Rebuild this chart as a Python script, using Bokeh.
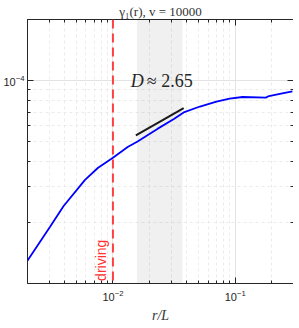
import numpy as np
from bokeh.plotting import figure
from bokeh.models import (LogAxis, FixedTicker, LogTickFormatter, BoxAnnotation,
                          Span, Label, Range1d, CustomJSTickFormatter)
from bokeh.embed import file_html
from bokeh.resources import INLINE

# ---- data ----
r_over_L = [0.00199, 0.00305, 0.00395, 0.00591, 0.00756, 0.0100, 0.0132, 0.0159,
            0.0231, 0.0315, 0.0379, 0.0515, 0.0703, 0.0900, 0.115, 0.178, 0.189,
            0.243, 0.294]
gamma1 = [1.29e-5, 1.90e-5, 2.41e-5, 3.24e-5, 3.72e-5, 4.17e-5, 4.71e-5, 5.01e-5,
          5.78e-5, 6.47e-5, 6.97e-5, 7.45e-5, 7.88e-5, 8.14e-5, 8.30e-5, 8.24e-5,
          8.39e-5, 8.65e-5, 8.85e-5]
fit_r = [0.0154, 0.0379]
fit_g = [5.37e-5, 7.32e-5]
fit_band = [0.0157, 0.037]
driving_r = 0.01
x_lim = [0.002, 0.3]
y_lim = [1e-5, 2e-4]
x_major = [0.01, 0.1]
x_minor = [0.002, 0.003, 0.004, 0.005, 0.006, 0.007, 0.008, 0.009,
           0.02, 0.03, 0.04, 0.05, 0.06, 0.07, 0.08, 0.09, 0.2, 0.3]
y_major = [1e-4]
y_minor = [2e-5, 3e-5, 4e-5, 5e-5, 6e-5, 7e-5, 8e-5, 9e-5, 2e-4]

p = figure(frame_width=266, frame_height=264, x_axis_type="log", y_axis_type="log",
           x_range=Range1d(*x_lim), y_range=Range1d(*y_lim),
           output_backend="svg", toolbar_location=None,
           title="γ₁(r), v = 10000", min_border=0)
p.title.align = "center"
p.title.text_font = "Liberation Serif"
p.title.text_font_style = "normal"
p.title.text_font_size = "13px"
p.title.text_color = "#333333"
p.title.standoff = 2
p.outline_line_color = None

xt = FixedTicker(ticks=x_major, minor_ticks=x_minor)
yt = FixedTicker(ticks=y_major, minor_ticks=y_minor)

def style_axis(ax, labels=True):
    ax.major_tick_in = 6
    ax.major_tick_out = 0
    ax.minor_tick_in = 3
    ax.minor_tick_out = 0
    ax.axis_line_color = "#262626"
    ax.major_tick_line_color = "#262626"
    ax.minor_tick_line_color = "#262626"
    ax.major_label_text_font = "Liberation Sans"
    ax.major_label_text_color = "#262626"
    if labels:
        ax.major_label_text_font_size = "11px"
        ax.major_label_standoff = 3
    else:
        ax.formatter = CustomJSTickFormatter(code="return ''")
        ax.major_label_text_font_size = "1px"
        ax.major_label_standoff = 0

p.xaxis.ticker = xt
p.yaxis.ticker = yt
p.xaxis.formatter = LogTickFormatter()
p.yaxis.formatter = LogTickFormatter()
style_axis(p.xaxis[0])
style_axis(p.yaxis[0])
p.xaxis.major_label_standoff = 6
p.xaxis.axis_label = "r/L"
p.xaxis.axis_label_text_font = "Liberation Serif"
p.xaxis.axis_label_text_font_style = "italic"
p.xaxis.axis_label_text_font_size = "14px"
p.xaxis.axis_label_standoff = 4
p.xaxis.axis_label_text_color = "#333333"

top = LogAxis(ticker=FixedTicker(ticks=x_major, minor_ticks=x_minor))
style_axis(top, labels=False)
p.add_layout(top, "above")
right = LogAxis(ticker=FixedTicker(ticks=y_major, minor_ticks=y_minor))
style_axis(right, labels=False)
p.add_layout(right, "right")

for g in (p.xgrid[0], p.ygrid[0]):
    g.grid_line_color = "#e3e3e3"
    g.grid_line_width = 1
    g.minor_grid_line_color = "#ebebeb"
    g.minor_grid_line_dash = "3 3"
    g.minor_grid_line_width = 1

band = BoxAnnotation(left=fit_band[0], right=fit_band[1], fill_color="black",
                     fill_alpha=0.06, line_color=None, level="underlay")
p.add_layout(band)

p.line(r_over_L, gamma1, line_color="#0000ff", line_width=1.8)
p.line(fit_r, fit_g, line_color="#1a1a1a", line_width=2)

span = Span(location=driving_r, dimension="height", line_color="#ff4040",
            line_width=2, line_dash="9 5")
p.add_layout(span)

p.add_layout(Label(x=driving_r * 0.93, y=y_lim[0] * 1.03,
                   text="driving", angle=np.pi / 2, text_color="#ff3030",
                   text_font="Liberation Sans", text_font_size="14px",
                   text_align="left", text_baseline="bottom"))
p.add_layout(Label(x=0.014, y=1e-4, text="D", text_font="Liberation Serif",
                   text_font_style="italic", text_font_size="18px",
                   text_color="#262626", text_baseline="middle", text_align="left"))
p.add_layout(Label(x=0.014, y=1e-4, x_offset=16, text="≈ 2.65",
                   text_font="Liberation Serif", text_font_size="18px",
                   text_color="#262626", text_baseline="middle", text_align="left"))

open("out.html", "w").write(file_html(p, INLINE))
